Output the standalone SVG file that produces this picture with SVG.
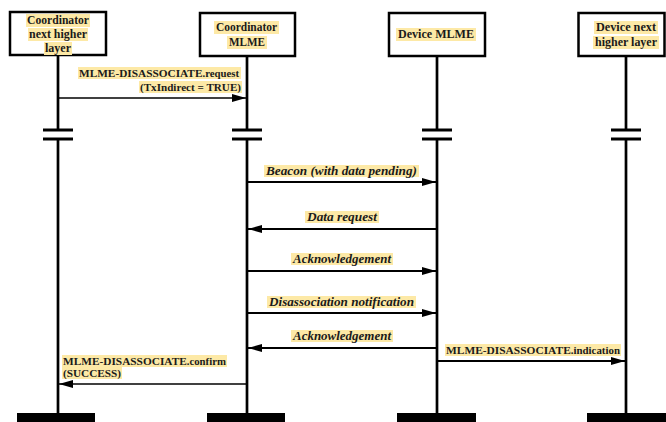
<svg xmlns="http://www.w3.org/2000/svg" width="666" height="422" viewBox="0 0 666 422">
<style>
.box{fill:#fff;stroke:#000;stroke-width:2.5}
.life{stroke:#000;stroke-width:2.7;fill:none}
.brk{stroke:#000;stroke-width:3}
.bar{fill:#000}
.msg{stroke:#000;stroke-width:2;fill:none;marker-end:url(#ah)}
.thin{stroke-width:1.6}
.hl{fill:#fde9a6}
.t{font-family:"Liberation Serif","Times New Roman",serif;font-weight:bold;fill:#1a1a1a}
.bt{font-size:12px;text-anchor:middle}
.ct{font-size:10.5px}
.it{font-size:11.5px;font-style:italic;text-anchor:middle}
.sm{font-size:10px}
</style>
<defs>
<marker id="ah" markerUnits="userSpaceOnUse" markerWidth="14" markerHeight="8" refX="14" refY="4" orient="auto">
<path d="M0,0 L14,4 L0,8 z" fill="#000"/>
</marker>
</defs>
<rect width="666" height="422" fill="#fff"/>

<g id="node-coord-nhl">
<line class="life" x1="58" y1="55" x2="58" y2="130"/>
<line class="life" x1="58" y1="139" x2="58" y2="414"/>
<line class="brk" x1="43" y1="130" x2="73" y2="130"/>
<line class="brk" x1="43" y1="139" x2="73" y2="139"/>
<rect class="bar" x="17" y="413" width="78" height="9"/>
<rect class="box" x="10" y="12" width="96" height="43"/>
<rect class="hl" x="26" y="14" width="64" height="13"/>
<rect class="hl" x="28" y="28" width="60" height="13"/>
<rect class="hl" x="44" y="42" width="28" height="13"/>
<text class="t bt" x="58" y="24" textLength="62" lengthAdjust="spacingAndGlyphs">Coordinator</text>
<text class="t bt" x="58" y="38" textLength="58" lengthAdjust="spacingAndGlyphs">next higher</text>
<text class="t bt" x="58" y="52" textLength="26" lengthAdjust="spacingAndGlyphs">layer</text>
</g>

<g id="node-coord-mlme">
<line class="life" x1="247" y1="56" x2="247" y2="130"/>
<line class="life" x1="247" y1="139" x2="247" y2="414"/>
<line class="brk" x1="232" y1="130" x2="262" y2="130"/>
<line class="brk" x1="232" y1="139" x2="262" y2="139"/>
<rect class="bar" x="207" y="413" width="78" height="9"/>
<rect class="box" x="200" y="13" width="95" height="43"/>
<rect class="hl" x="214" y="21" width="65" height="13"/>
<rect class="hl" x="227" y="36" width="40" height="13"/>
<text class="t bt" x="246.5" y="31" textLength="61" lengthAdjust="spacingAndGlyphs">Coordinator</text>
<text class="t bt" x="247" y="46" textLength="36" lengthAdjust="spacingAndGlyphs">MLME</text>
</g>

<g id="node-device-mlme">
<line class="life" x1="437" y1="56" x2="437" y2="130"/>
<line class="life" x1="437" y1="139" x2="437" y2="414"/>
<line class="brk" x1="422" y1="130" x2="452" y2="130"/>
<line class="brk" x1="422" y1="139" x2="452" y2="139"/>
<rect class="bar" x="397" y="413" width="79" height="9"/>
<rect class="box" x="389" y="13" width="96" height="43"/>
<rect class="hl" x="396" y="28" width="80" height="13"/>
<text class="t bt" x="436" y="38" textLength="76" lengthAdjust="spacingAndGlyphs">Device MLME</text>
</g>

<g id="node-device-nhl">
<line class="life" x1="626" y1="56" x2="626" y2="130"/>
<line class="life" x1="626" y1="139" x2="626" y2="414"/>
<line class="brk" x1="611" y1="130" x2="641" y2="130"/>
<line class="brk" x1="611" y1="139" x2="641" y2="139"/>
<rect class="bar" x="587" y="413" width="79" height="9"/>
<rect class="box" x="578.5" y="13" width="86" height="43"/>
<rect class="hl" x="594" y="21" width="64" height="13"/>
<rect class="hl" x="593" y="36" width="66" height="13"/>
<text class="t bt" x="626" y="31" textLength="60" lengthAdjust="spacingAndGlyphs">Device next</text>
<text class="t bt" x="626" y="46" textLength="62" lengthAdjust="spacingAndGlyphs">higher layer</text>
</g>

<g id="connectors">
<line class="msg thin" x1="58" y1="98" x2="246" y2="98"/>
<line class="msg" x1="247" y1="182" x2="436" y2="182"/>
<line class="msg" x1="437" y1="229" x2="248" y2="229"/>
<line class="msg" x1="247" y1="271" x2="436" y2="271"/>
<line class="msg" x1="247" y1="313" x2="436" y2="313"/>
<line class="msg" x1="437" y1="348" x2="248" y2="348"/>
<line class="msg" x1="437" y1="361" x2="625" y2="361"/>
<line class="msg thin" x1="247" y1="384" x2="59" y2="384"/>
</g>

<g id="labels">
<rect class="hl" x="78" y="67" width="163" height="12"/>
<rect class="hl" x="139" y="81" width="103" height="12"/>
<text class="t ct" x="239" y="77" text-anchor="end" textLength="160" lengthAdjust="spacingAndGlyphs">MLME-DISASSOCIATE<tspan class="sm">.request</tspan></text>
<text class="t ct" x="241" y="91" text-anchor="end" textLength="101" lengthAdjust="spacingAndGlyphs">(TxIndirect = TRUE)</text>

<rect class="hl" x="264" y="165" width="155" height="12"/>
<text class="t it" x="341.5" y="175" textLength="151" lengthAdjust="spacingAndGlyphs">Beacon (with data pending)</text>

<rect class="hl" x="305" y="211" width="74" height="12"/>
<text class="t it" x="342" y="221" textLength="70" lengthAdjust="spacingAndGlyphs">Data request</text>

<rect class="hl" x="291" y="253" width="102" height="12"/>
<text class="t it" x="342" y="263" textLength="98" lengthAdjust="spacingAndGlyphs">Acknowledgement</text>

<rect class="hl" x="267" y="296" width="149" height="12"/>
<text class="t it" x="341.5" y="306" textLength="145" lengthAdjust="spacingAndGlyphs">Disassociation  notification</text>

<rect class="hl" x="291" y="330" width="102" height="12"/>
<text class="t it" x="342" y="340" textLength="98" lengthAdjust="spacingAndGlyphs">Acknowledgement</text>

<rect class="hl" x="445" y="344" width="176" height="12"/>
<text class="t ct" x="446" y="354" textLength="174" lengthAdjust="spacingAndGlyphs">MLME-DISASSOCIATE<tspan class="sm">.indication</tspan></text>

<rect class="hl" x="62" y="355" width="165" height="12"/>
<rect class="hl" x="62" y="367" width="60" height="12"/>
<text class="t ct" x="63" y="365" textLength="163" lengthAdjust="spacingAndGlyphs">MLME-DISASSOCIATE<tspan class="sm">.confirm</tspan></text>
<text class="t ct" x="63" y="377" textLength="58" lengthAdjust="spacingAndGlyphs">(SUCCESS)</text>
</g>
</svg>
